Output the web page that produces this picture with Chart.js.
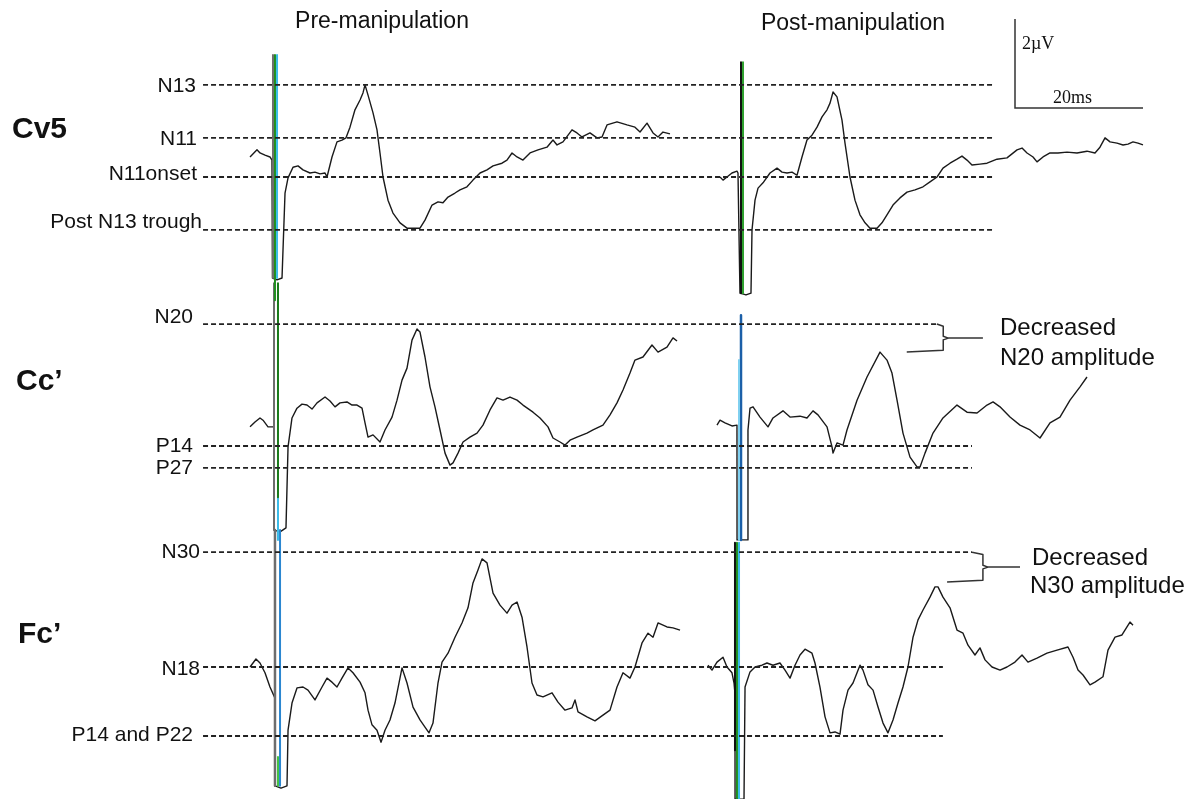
<!DOCTYPE html>
<html><head><meta charset="utf-8">
<script src="https://cdn.jsdelivr.net/npm/chart.js@4.4.1/dist/chart.umd.min.js"></script>
<style>
html,body{margin:0;padding:0;background:#fff;}
#wrap{position:relative;width:1192px;height:799px;overflow:hidden;font-family:"Liberation Sans",Arial,sans-serif;color:#111;background:#fff;}
#c{position:absolute;left:0;top:0;}
.t{position:absolute;white-space:nowrap;line-height:1;transform:translateY(-50%);font-size:21px;}
.c{transform:translate(-50%,-50%);font-size:23px;}
.b{font-weight:bold;font-size:30px;}
.s{font-family:"Liberation Serif","Times New Roman",serif;font-size:18px;}
.a{font-size:24px;}
</style></head><body>
<div id="wrap">
<canvas id="c" width="1192" height="799"></canvas>
<div class="t c" style="left:382px;top:20px">Pre-manipulation</div>
<div class="t c" style="left:853px;top:22px">Post-manipulation</div>
<div class="t" style="right:996px;top:84px">N13</div>
<div class="t b" style="left:12px;top:128px">Cv5</div>
<div class="t" style="right:995px;top:137px">N11</div>
<div class="t" style="right:995px;top:172px">N11onset</div>
<div class="t" style="right:990px;top:220px">Post N13 trough</div>
<div class="t" style="right:999px;top:315px">N20</div>
<div class="t b" style="left:16px;top:380px">Cc’</div>
<div class="t" style="right:999px;top:444px">P14</div>
<div class="t" style="right:999px;top:466px">P27</div>
<div class="t" style="right:992px;top:550px">N30</div>
<div class="t b" style="left:18px;top:633px">Fc’</div>
<div class="t" style="right:992px;top:667px">N18</div>
<div class="t" style="right:999px;top:733px">P14 and P22</div>
<div class="t s" style="left:1022px;top:43px">2µV</div>
<div class="t s" style="left:1053px;top:97px">20ms</div>
<div class="t a" style="left:1000px;top:327px">Decreased</div>
<div class="t a" style="left:1000px;top:357px">N20 amplitude</div>
<div class="t a" style="left:1032px;top:557px">Decreased</div>
<div class="t a" style="left:1030px;top:585px">N30 amplitude</div>
</div>
<script>
// ---------- DATA (time in ms from stimulus, amplitude in µV from row baseline) ----------
const cv5PreT = [-4.06,-2.97,-2.5,-1.72,-0.94,-0.63,-0.55,0.16,0.94,1.41,1.88,2.66,3.44,4.22,5.31,6.09,6.88,7.66,7.97,8.75,9.53,10.31,10.94,11.56,12.34,13.13,13.59,13.91,14.38,15.16,15.78,16.25,16.72,17.5,18.28,19.38,20.47,21.41,22.5,23.28,24.38,25.31,26.09,26.88,27.97,28.75,29.84,30.78,31.88,32.97,33.91,35.31,36.09,36.88,37.66,38.59,39.69,40.94,42.34,43.28,43.91,44.84,46.25,47.03,47.81,49.06,50.16,50.94,51.72,53.28,54.84,56.09,56.88,57.97,58.91,59.69,60.47,61.56];
const cv5PreUv = [0.45,0.61,0.54,0.49,0.45,0.38,-2.27,-2.31,-2.27,-0.36,-0.02,0.22,0.25,0.16,0.09,0.11,0.07,0.09,0,0.45,0.79,0.83,0.88,1.12,1.51,1.73,1.89,2.07,1.84,1.44,1.06,0.54,0,-0.52,-0.81,-1.03,-1.15,-1.15,-1.15,-0.97,-0.63,-0.56,-0.58,-0.45,-0.36,-0.29,-0.22,-0.07,0.09,0.16,0.25,0.31,0.38,0.54,0.45,0.38,0.54,0.61,0.67,0.83,0.72,0.79,1.06,0.99,0.9,0.99,0.88,0.9,1.17,1.24,1.17,1.12,1.01,1.21,0.99,0.9,1.01,0.97];

const cv5PostT = [-3.28,-2.81,-2.19,-1.41,-0.63,-0.47,-0.16,0.78,1.56,1.72,2.19,2.66,3.44,4.53,5.63,6.41,7.19,7.97,8.75,9.53,10.31,11.09,11.88,12.66,13.44,13.91,14.38,15.0,15.78,16.25,17.03,17.81,18.59,19.38,20.16,21.25,22.03,22.81,23.75,24.84,25.94,27.19,28.44,29.53,30.63,31.56,32.66,33.75,34.53,35.31,36.09,37.34,38.44,40.0,41.56,43.13,43.91,44.69,45.63,46.25,47.19,48.28,49.53,50.94,52.5,54.06,55.31,56.09,56.88,57.66,58.75,59.69,60.47,61.25,62.03,62.81];
const cv5PostUv = [0,-0.07,0,0.09,0.13,0.09,-2.61,-2.65,-2.61,-1.19,-0.52,-0.25,-0.13,0.09,0.2,0.11,0.09,0.11,0.04,0.45,0.83,0.94,1.12,1.35,1.51,1.66,1.91,1.8,1.28,0.76,0,-0.52,-0.85,-1.03,-1.15,-1.15,-1.03,-0.85,-0.63,-0.47,-0.34,-0.29,-0.22,-0.11,0,0.2,0.31,0.4,0.47,0.38,0.27,0.29,0.31,0.4,0.43,0.61,0.65,0.54,0.45,0.34,0.45,0.54,0.54,0.56,0.54,0.58,0.54,0.67,0.88,0.79,0.76,0.72,0.74,0.79,0.76,0.72];

const ccPreT = [-4.06,-3.28,-2.5,-2.03,-1.25,-0.63,-0.31,-0.3,0.63,1.56,1.88,2.5,3.28,4.06,4.84,5.63,6.41,7.66,8.44,9.22,10.0,11.09,11.88,12.66,13.44,13.91,14.38,15.16,16.25,17.03,18.13,18.91,19.69,20.47,21.25,22.03,22.5,23.28,24.06,24.84,25.63,26.41,27.19,27.66,28.44,29.22,30.31,31.41,32.34,33.44,34.53,35.47,36.56,37.66,38.59,40.16,41.25,42.5,43.28,44.38,45.16,45.94,47.03,48.59,49.53,51.09,52.19,53.28,54.22,55.31,56.09,57.34,58.75,59.69,61.09,62.03,62.66];
const ccPreUv = [0.43,0.54,0.63,0.58,0.43,0.43,0.43,-1.89,-1.93,-1.84,-0.02,0.63,0.85,0.94,0.92,0.83,0.97,1.1,1.01,0.88,0.97,0.99,0.92,0.92,0.85,0.52,0.2,0.25,0.09,0.36,0.65,1.03,1.48,1.75,2.38,2.63,2.56,2.0,1.33,0.88,0.36,-0.16,-0.43,-0.38,-0.16,0.09,0.2,0.29,0.47,0.81,1.08,1.03,1.1,1.03,0.92,0.76,0.63,0.43,0.18,0.09,0.02,0.13,0.2,0.29,0.36,0.47,0.7,0.97,1.26,1.64,1.93,2.0,2.27,2.11,2.22,2.43,2.36];

const ccPostT = [-3.75,-3.28,-2.5,-1.41,-0.63,-0.62,0.16,0.94,1.09,1.41,1.88,2.97,4.22,5.0,6.56,7.66,9.22,10.31,11.25,12.03,13.44,14.22,14.38,15.0,15.94,16.56,18.13,19.69,21.72,22.81,23.59,24.38,25.31,26.41,27.5,27.97,28.75,30.0,31.56,33.75,35.31,36.88,38.44,39.38,40.47,42.03,43.59,45.16,46.72,48.28,49.84,51.41,52.97,54.06];
const ccPostUv = [0.47,0.58,0.52,0.45,0.47,-2.11,-2.11,-2.11,0.36,0.85,0.88,0.65,0.43,0.63,0.79,0.65,0.67,0.63,0.79,0.7,0.43,-0.02,-0.16,0.07,0.02,0.36,1.03,1.55,2.11,1.93,1.64,1.03,0.29,-0.25,-0.47,-0.47,-0.16,0.29,0.63,0.92,0.76,0.74,0.92,0.99,0.88,0.65,0.47,0.36,0.18,0.52,0.65,1.03,1.33,1.55];

const fcPreT = [-4.06,-3.13,-2.5,-1.72,-0.94,-0.16,-0.15,0.78,1.72,1.88,2.5,3.28,4.22,5.0,6.09,7.19,7.97,8.75,9.53,10.31,11.25,12.03,13.13,13.91,14.38,15.0,15.78,16.41,17.03,17.81,18.59,19.69,20.47,21.41,22.5,23.28,23.91,24.53,25.31,25.94,26.88,27.97,29.06,30.0,30.78,31.56,32.19,32.97,33.91,35.0,36.09,36.88,37.66,38.44,39.22,40.0,40.78,41.72,43.13,44.06,45.16,46.25,46.72,47.19,48.59,49.84,51.09,52.19,53.28,54.22,55.31,56.09,57.19,58.13,58.91,59.69,61.09,62.03,63.13];
const fcPreUv = [0,0.18,0.09,-0.13,-0.45,-0.7,-2.67,-2.72,-2.67,-1.42,-0.81,-0.47,-0.45,-0.52,-0.74,-0.45,-0.25,-0.34,-0.45,-0.25,-0.02,-0.13,-0.34,-0.58,-0.97,-1.3,-1.42,-1.69,-1.42,-1.19,-0.81,-0.02,-0.36,-0.9,-1.19,-1.35,-1.48,-1.26,-0.36,0.11,0.31,0.67,0.99,1.33,1.89,2.18,2.43,2.34,1.66,1.39,1.21,1.39,1.46,1.12,0.45,-0.36,-0.63,-0.67,-0.58,-0.79,-0.97,-0.92,-0.74,-1.01,-1.12,-1.21,-1.08,-0.97,-0.45,-0.13,-0.25,0,0.54,0.76,0.67,0.99,0.9,0.88,0.83];

const fcPostT = [-5.16,-4.53,-3.75,-2.81,-2.19,-1.41,-1.09,-0.94,-0.93,0.47,0.63,1.41,2.19,3.28,4.06,5.0,6.09,6.88,7.66,8.44,9.22,10.0,11.09,11.56,12.34,13.13,13.91,14.69,15.47,15.94,16.72,17.5,18.13,18.59,19.06,19.84,20.63,21.41,22.19,22.97,23.75,24.53,25.31,26.09,26.88,27.66,28.44,29.53,30.31,30.78,31.56,32.66,33.75,34.69,35.47,36.56,37.34,38.13,39.22,40.47,41.56,42.81,43.91,44.84,46.25,47.81,49.38,51.09,51.88,52.66,53.44,54.53,55.31,56.56,57.34,58.44,59.53,60.31,60.78,61.25];
const fcPostUv = [0.04,-0.07,0.11,0.22,0,-0.13,-0.36,-0.6,-2.97,-2.97,-0.45,-0.11,0,0.04,0.09,0.04,0.09,-0.07,-0.25,0.04,0.27,0.4,0.31,0.09,-0.45,-1.12,-1.48,-1.46,-1.51,-0.97,-0.52,-0.36,-0.13,0.04,-0.07,-0.4,-0.52,-0.9,-1.26,-1.48,-1.19,-0.81,-0.45,0,0.67,1.06,1.28,1.57,1.8,1.8,1.57,1.33,0.83,0.76,0.49,0.27,0.43,0.16,0,-0.07,0,0.11,0.27,0.11,0.2,0.31,0.38,0.45,0.22,-0.07,-0.18,-0.4,-0.34,-0.22,0.38,0.67,0.72,0.9,1.01,0.94];

// reference levels (µV from row baseline), names as labelled
const cv5RefLevels = [2.07, 0.88, 0, -1.19];     // N13, N11, N11onset, Post N13 trough
const ccRefLevels  = [2.74, 0, -0.49];          // N20, P14, P27
const fcRefLevels  = [2.58, 0, -1.55];          // N30, N18, P14 and P22
// post-manipulation peaks marked by the brackets (µV)
const n20PostPeak = 2.11;
const n30PostPeak = 1.91;
// calibration bar
const scaleBarMs = 20;
const scaleBarUv = 2;

// ---------- LAYOUT ----------
const W = 1192, H = 799, PX_MS = 6.4, PX_UV = 44.5;
const COL = {pre: 276 / PX_MS, post: 741 / PX_MS};
const ROW = {cv5: (H - 177) / PX_UV, cc: (H - 446) / PX_UV, fc: (H - 667) / PX_UV};
const REF_START = -11.4; // ms, pre column

const datasets = [];
function add(pts, o) {
  datasets.push(Object.assign({data: pts, showLine: true, pointRadius: 0, borderWidth: 1.4,
    borderColor: '#1a1a1a', tension: 0, fill: false, borderJoinStyle: 'round', clip: false}, o || {}));
}
function trace(col, row, ts, vs) {
  const n = Math.min(ts.length, vs.length), pts = [];
  for (let i = 0; i < n; i++) pts.push({x: COL[col] + ts[i], y: ROW[row] + vs[i]});
  add(pts);
}
function ref(row, level, endPre) {
  add([{x: COL.pre + REF_START, y: ROW[row] + level}, {x: COL.pre + endPre, y: ROW[row] + level}],
      {borderDash: [5, 3], borderWidth: 1.8, borderColor: '#222', borderJoinStyle: 'miter'});
}
function marker(col, row, t, top, bot, color, w) {
  add([{x: COL[col] + t, y: ROW[row] + top}, {x: COL[col] + t, y: ROW[row] + bot}],
      {borderColor: color, borderWidth: w || 2});
}
function bracket(row, top, bottom, lineEnd, spine, tickEnd, armEnd) {
  const b = ROW[row], mid = (top + bottom) / 2, x = v => COL.post + v;
  add([{x: x(lineEnd), y: b + top}, {x: x(spine), y: b + top - 0.05}, {x: x(spine), y: b + mid + 0.04},
       {x: x(spine + 0.8), y: b + mid}, {x: x(tickEnd), y: b + mid}], {borderColor: '#333', borderWidth: 1.5});
  add([{x: x(spine + 0.8), y: b + mid}, {x: x(spine), y: b + mid - 0.04}, {x: x(spine), y: b + bottom + 0.04},
       {x: x(armEnd), y: b + bottom}], {borderColor: '#333', borderWidth: 1.5});
}

// reference dashed lines
cv5RefLevels.forEach(l => ref('cv5', l, 112));
ref('cc', ccRefLevels[0], 103.3); ref('cc', ccRefLevels[1], 108.75); ref('cc', ccRefLevels[2], 108.75);
ref('fc', fcRefLevels[0], 108.75); ref('fc', fcRefLevels[1], 104.2); ref('fc', fcRefLevels[2], 104.2);

// stimulus marker lines
marker('pre', 'cv5', -0.47, 2.74, -2.27, '#6d6d6d');
marker('pre', 'cv5', -0.16, 2.74, -2.77, '#1f8f1f');
marker('pre', 'cv5', 0.16, 2.74, -2.27, '#3bbbe8');
marker('post', 'cv5', 0, 2.58, -2.61, '#111');
marker('post', 'cv5', 0.31, 2.58, -2.61, '#2ea02e');
marker('pre', 'cc', -0.31, 3.66, -1.89, '#6d6d6d');
marker('pre', 'cc', 0.31, 3.66, -1.15, '#1a7a1a');
marker('pre', 'cc', 0.31, -1.15, -2.11, '#3bbbe8');
marker('post', 'cc', -0.31, 1.93, -2.11, '#7fd0f0');
marker('post', 'cc', 0, 2.94, -2.11, '#1b5fa8', 2.5);
marker('pre', 'fc', -0.16, 3.08, -2.67, '#6d6d6d', 2.5);
marker('pre', 'fc', 0.63, 3.08, -2.67, '#2a86d0');
marker('pre', 'fc', 0.31, -2.02, -2.67, '#44c244');
marker('post', 'fc', -0.94, 2.79, -1.87, '#111');
marker('post', 'fc', -0.63, 2.79, -2.97, '#1f8f1f');
marker('post', 'fc', -0.31, 2.79, -2.97, '#3bbbe8');

// traces
trace('pre', 'cv5', cv5PreT, cv5PreUv);
trace('post', 'cv5', cv5PostT, cv5PostUv);
trace('pre', 'cc', ccPreT, ccPreUv);
trace('post', 'cc', ccPostT, ccPostUv);
trace('pre', 'fc', fcPreT, fcPreUv);
trace('post', 'fc', fcPostT, fcPostUv);

// brackets
bracket('cc', ccRefLevels[0], n20PostPeak, 30.6, 31.6, 37.8, 25.9);
bracket('fc', fcRefLevels[0], n30PostPeak, 36.1, 37.8, 43.6, 32.2);

// calibration bar
const sbX = 1015 / PX_MS, sbY = (H - 108) / PX_UV;
add([{x: sbX, y: sbY + scaleBarUv}, {x: sbX, y: sbY}, {x: sbX + scaleBarMs, y: sbY}],
    {borderColor: '#333', borderWidth: 1.5, borderJoinStyle: 'miter'});

new Chart(document.getElementById('c'), {
  type: 'scatter',
  data: {datasets},
  options: {
    responsive: false, animation: false, events: [],
    layout: {padding: 0},
    plugins: {legend: {display: false}, tooltip: {enabled: false}},
    scales: {
      x: {type: 'linear', min: 0, max: W / PX_MS, display: false},
      y: {type: 'linear', min: 0, max: H / PX_UV, display: false}
    }
  }
});
</script>
</body></html>
